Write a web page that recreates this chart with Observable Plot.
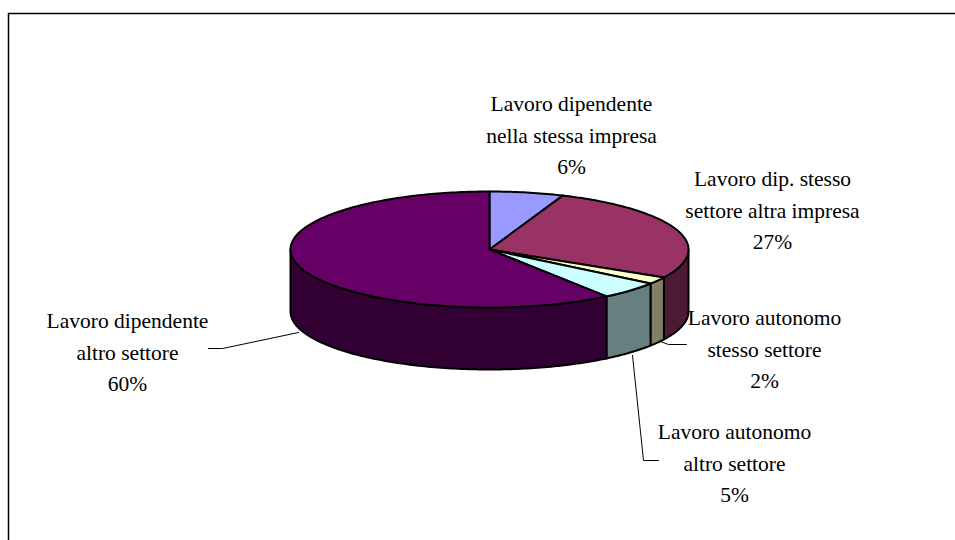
<!DOCTYPE html>
<html><head><meta charset="utf-8">
<script src="https://cdn.jsdelivr.net/npm/d3@7"></script>
<script src="https://cdn.jsdelivr.net/npm/@observablehq/plot@0.6"></script>
<style>html,body{margin:0;padding:0;background:#fff;} svg{display:block;}</style>
</head><body><div id="chart"></div>
<script>
// ---- data ----
const categories = [
  "Lavoro dipendente\nnella stessa impresa",
  "Lavoro dip. stesso\nsettore altra impresa",
  "Lavoro autonomo\nstesso settore",
  "Lavoro autonomo\naltro settore",
  "Lavoro dipendente\naltro settore"
];
const shares = [6, 27, 2, 5, 60];
const topColors = ["#9999FF", "#993366", "#FFFFCC", "#CCFFFF", "#660066"];

// ---- layout (pixels) ----
const CX = 489, CY = 249, RX = 199, RY = 58, DEPTH = 62;
const labelAnchors = [[571, 132], [772, 207], [764, 346], [734, 460], [127, 349]];
const leaderPaths = [
  [[208, 348], [222, 348], [298, 332]],
  [[660, 341], [668, 344], [686, 344]],
  [[632, 355], [643, 460], [658, 460]]
];

// helpers: pixel -> data units of the pie scales
const px = (p) => (p - CX) / RX;
const py = (p) => (CY - p) / RY;
const dz = DEPTH / RY;

const total = d3.sum(shares);
let acc = 0;
const slices = shares.map((v, i) => {
  const a = acc / total * 2 * Math.PI;
  acc += v;
  const b = acc / total * 2 * Math.PI;
  return {i, a, b};
});

function arc(a, b, off) {
  const n = Math.max(2, Math.ceil((b - a) / (Math.PI / 180)));
  return d3.range(n + 1).map(k => {
    const t = a + (b - a) * k / n;
    return [Math.sin(t), Math.cos(t) - off];
  });
}
function half(c) { const r = d3.rgb(c); return d3.rgb(r.r / 2, r.g / 2, r.b / 2).formatHex(); }

const wallRows = [];
slices.forEach(s => {
  const lo = Math.max(s.a, Math.PI / 2), hi = Math.min(s.b, 3 * Math.PI / 2);
  if (hi > lo) {
    const pts = arc(lo, hi, 0).concat(arc(lo, hi, dz).reverse());
    pts.forEach(([x, y]) => wallRows.push({id: "w" + s.i, x, y, fill: half(topColors[s.i])}));
  }
});
const topRows = [];
slices.forEach(s => {
  [[0, 0]].concat(arc(s.a, s.b, 0)).forEach(([x, y]) => topRows.push({id: "t" + s.i, x, y, fill: topColors[s.i]}));
});
const leaderRows = [];
leaderPaths.forEach((p, j) => p.forEach(([x, y]) => leaderRows.push({id: j, x: px(x), y: py(y)})));
const labelRows = categories.map((c, i) => ({
  x: px(labelAnchors[i][0]), y: py(labelAnchors[i][1]),
  text: c + "\n" + shares[i] + "%"
}));

const chart = Plot.plot({
  width: 955, height: 540,
  marginTop: 13, marginLeft: 8, marginRight: -4, marginBottom: -4,
  style: {fontFamily: "'Liberation Serif', 'Times New Roman', serif", background: "white"},
  x: {domain: [-1, 1], range: [CX - RX, CX + RX], axis: null},
  y: {domain: [-1, 1], range: [CY + RY, CY - RY], axis: null},
  color: {type: "identity"},
  marks: [
    Plot.frame({stroke: "black", strokeWidth: 1.5}),
    Plot.line(wallRows, {x: "x", y: "y", z: "id", fill: "fill", stroke: "black", strokeWidth: 2, curve: "linear-closed"}),
    Plot.line(topRows, {x: "x", y: "y", z: "id", fill: "fill", stroke: "black", strokeWidth: 2, curve: "linear-closed"}),
    Plot.line(leaderRows, {x: "x", y: "y", z: "id", stroke: "black", strokeWidth: 1}),
    Plot.text(labelRows, {x: "x", y: "y", text: "text", fontFamily: "'Liberation Serif', 'Times New Roman', serif", fontSize: 21.5, lineHeight: 1.47, fill: "black"})
  ]
});
document.getElementById("chart").appendChild(chart);
</script>
</body></html>
